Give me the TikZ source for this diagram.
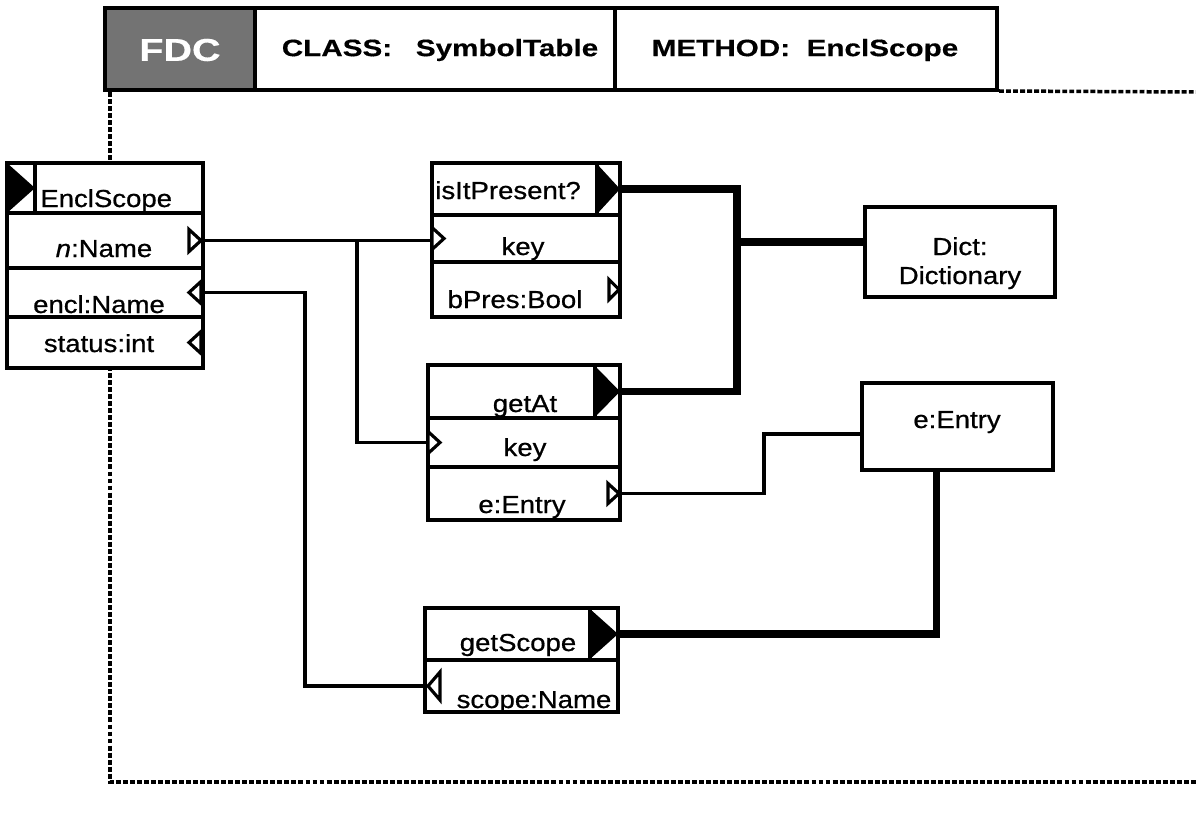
\documentclass[tikz,border=0pt]{standalone}
\usepackage{fontspec}
\setmainfont{Liberation Sans}
\newfontfamily\lblfont[FakeStretch=1.12,FakeBold=0.7]{Liberation Sans}
\newfontfamily\hdrfont[FakeStretch=1.25,FakeBold=0.4]{Liberation Sans}
\usetikzlibrary{fit}
\begin{document}
\begin{tikzpicture}[x=0.02cm,y=-0.02cm,
  cell/.style={draw, fill=white, line width=2pt, inner sep=0pt},
  hcell/.style={draw, line width=2.2pt, inner sep=0pt},
  lbl/.style={font=\lblfont\fontsize{14}{16}\selectfont, inner sep=0pt, anchor=base},
  lblw/.style={lbl, anchor=base west},
  hdr/.style={font=\hdrfont\bfseries\fontsize{13.5}{15}\selectfont, inner sep=0pt},
  fdcfont/.style={font=\hdrfont\bfseries\fontsize{18}{20}\selectfont, inner sep=0pt},
  wire/.style={line width=2pt},
  bus/.style={line width=4.2pt},
  frame/.style={line width=2pt, dash pattern=on 2.8pt off 1.2pt},
  port/.style={draw, line width=1.8pt, fill=white, line join=miter},
  outtri/.style={fill=black}
]
\useasboundingbox (0,0) rectangle (1196,815);

% dashed frame
\draw[frame] (110,92) -- (110,782) -- (1196,782);
\draw[frame] (999,91) -- (1196,92);

% ---------- header ----------
\node[hcell, fill=black!55, fit={(105,8) (255,90)}] (fdc) {};
\node[hcell, fit={(255,8) (615,90)}] (cls) {};
\node[hcell, fit={(615,8) (997,90)}] (mth) {};
\node[fdcfont, text=white] (fdct) at (180,50) {FDC};
\node[hdr] (clst) at (440,50) {CLASS:\hspace{1.0em}SymbolTable};
\node[hdr] (mtht) at (805,50) {METHOD:\hspace{0.7em}EnclScope};

% ---------- EnclScope ----------
\node[cell, fit={(7,163) (203,368)}] (es) {};
\node[cell, fit={(35,163) (203,213)}] (esTitle) {};
\node[cell, fit={(7,213) (203,268)}] (esN) {};
\node[cell, fit={(7,268) (203,317)}] (esEncl) {};
\node[cell, fit={(7,317) (203,368)}] (esStat) {};
\fill (7,163) -- (35,188) -- (7,213) -- cycle;
\node[lblw] (esTitleT) at (40,207) {EnclScope};
\node[lbl] (esNT) at (104,257) {\itshape n\upshape:Name};
\node[lbl] (esEnclT) at (99,313) {encl:Name};
\node[lbl] (esStatT) at (99,352) {status:int};
\draw[port] (189,229.5) -- (201,240.5) -- (189,251.5) -- cycle;
\draw[port] (201,281.5) -- (189,292.5) -- (201,303.5) -- cycle;
\draw[port] (201,331.5) -- (189,342.5) -- (201,353.5) -- cycle;

% ---------- isItPresent? ----------
\node[cell, fit={(432,163) (620,317)}] (ip) {};
\node[cell, fit={(432,163) (597,215)}] (ipTitle) {};
\node[cell, fit={(432,215) (620,262)}] (ipKey) {};
\node[cell, fit={(432,262) (620,317)}] (ipRes) {};
\fill[outtri] (597,164) -- (620,189) -- (597,214) -- cycle;
\coordinate (ipOut) at (620,189);
\node[lblw] (ipTitleT) at (435,199) {isItPresent?};
\node[lbl] (ipKeyT) at (523,255) {key};
\node[lbl] (ipResT) at (515,308) {bPres:Bool};
\draw[port] (432,227.5) -- (444,238.5) -- (432,249.5) -- cycle;
\draw[port] (609,279.5) -- (619,289.5) -- (609,299.5) -- cycle;

% ---------- getAt ----------
\node[cell, fit={(428,365) (620,520)}] (ga) {};
\node[cell, fit={(428,365) (595,418)}] (gaTitle) {};
\node[cell, fit={(428,418) (620,467)}] (gaKey) {};
\node[cell, fit={(428,467) (620,520)}] (gaEntry) {};
\fill[outtri] (595,366) -- (620,391.5) -- (595,417) -- cycle;
\coordinate (gaOut) at (620,391.5);
\node[lbl] (gaTitleT) at (525,412) {getAt};
\node[lbl] (gaKeyT) at (525,456) {key};
\node[lbl] (gaEntryT) at (522,513) {e:Entry};
\draw[port] (428,431.5) -- (440,442.5) -- (428,453.5) -- cycle;
\draw[port] (608,483.5) -- (619,493.5) -- (608,503.5) -- cycle;

% ---------- getScope ----------
\node[cell, fit={(425,608) (618,712)}] (gs) {};
\node[cell, fit={(425,608) (590,660)}] (gsTitle) {};
\node[cell, fit={(425,660) (618,712)}] (gsScope) {};
\fill[outtri] (590,609) -- (618,634) -- (590,659) -- cycle;
\coordinate (gsOut) at (618,634);
\node[lbl] (gsTitleT) at (518,651) {getScope};
\node[lbl] (gsScopeT) at (534,708) {scope:Name};
\draw[port] (440,672) -- (428,686) -- (440,700) -- cycle;

% ---------- objects ----------
\node[cell, fit={(865,207) (1055,297)}] (dict) {};
\node[lbl] (dictT1) at (960,255) {Dict:};
\node[lbl] (dictT2) at (960,284) {Dictionary};
\node[cell, fit={(862,383) (1053,470)}] (entry) {};
\node[lbl] (entryT) at (957,428) {e:Entry};

% ---------- connectors ----------
\draw[wire] (esN.east) -- (esN.east -| ipKey.west);
\draw[wire] (esN.east) ++(152,0) |- (gaKey.west);
\draw[wire] (esEncl.east) -- ++(100,0) |- (gsScope.west);
\draw[bus] (ipOut) -- ++(117,0) |- (gaOut);
\draw[bus] ([yshift=0.2cm]dict.west) -- ++(-128,0);
\draw[wire] (gaEntry.east) -- ++(142,0) |- ([yshift=-0.15cm]entry.west);
\draw[bus] (gsOut) -| ([xshift=-0.42cm]entry.south);
\end{tikzpicture}
\end{document}
